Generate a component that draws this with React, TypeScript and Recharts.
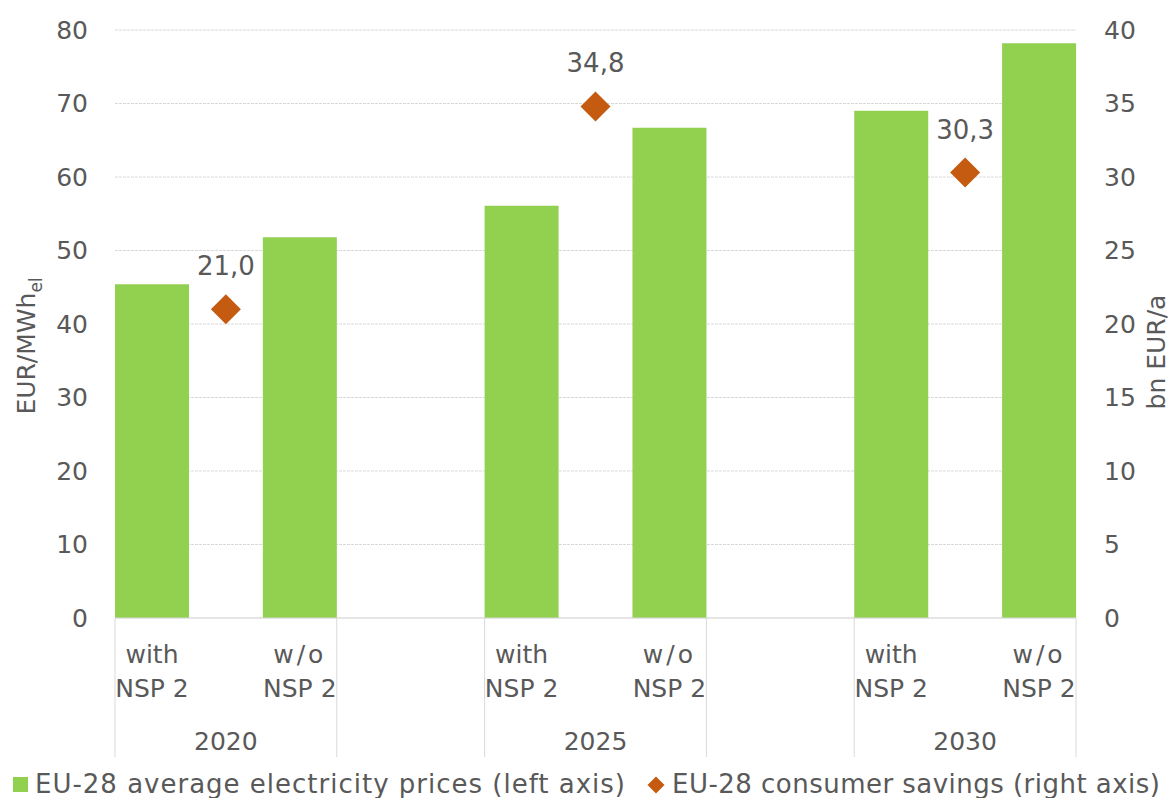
import React from 'react';
import {
  ComposedChart, Bar, Line, XAxis, YAxis, CartesianGrid, Legend, LabelList,
} from 'recharts';

const years = ['2020', '2025', '2030'];
const scenarioWith = ['with', 'NSP 2'];
const scenarioWithout = ['w/o', 'NSP 2'];
const pricesWith = [45.4, 56.1, 69.0];
const pricesWithout = [51.8, 66.7, 78.2];
const savings = [21.0, 34.8, 30.3];
const leftTicks = [0, 10, 20, 30, 40, 50, 60, 70, 80];
const rightTicks = [0, 5, 10, 15, 20, 25, 30, 35, 40];
const priceLegend = 'EU-28 average electricity prices (left axis)';
const savingsLegend = 'EU-28 consumer savings (right axis)';

const GREEN = '#92D050';
const ORANGE = '#C55A11';
const TEXT = '#595959';
const GRID = '#D9D9D9';
const FONT = '"DejaVu Sans", Verdana, sans-serif';

type Row = {
  key: string;
  price: number | null;
  saving: number | null;
  top: string[] | null;
  year: string;
  groupStart?: boolean;
  groupEnd?: boolean;
};

const rows: Row[] = [];
years.forEach((yr, g) => {
  rows.push({ key: `${yr}-with`, price: pricesWith[g], saving: null, top: scenarioWith, year: '', groupStart: true });
  rows.push({ key: `${yr}-mid`, price: null, saving: savings[g], top: null, year: yr });
  rows.push({ key: `${yr}-wo`, price: pricesWithout[g], saving: null, top: scenarioWithout, year: '', groupEnd: true });
  if (g < years.length - 1) {
    rows.push({ key: `${yr}-gap1`, price: null, saving: null, top: null, year: '' });
    rows.push({ key: `${yr}-gap2`, price: null, saving: null, top: null, year: '' });
  }
});

const fmt = (v: number) => v.toFixed(1).replace('.', ',');

const CategoryTick = (props: any) => {
  const { x, y, payload } = props;
  const i = payload.index;
  const row = rows[i];
  const half = payload.offset || 37;
  const parts: React.ReactNode[] = [];
  if (row.top) {
    parts.push(
      <text key="a" x={x} y={y + 45} textAnchor="middle" fill={TEXT} fontSize={25} fontFamily={FONT} letterSpacing={row.top[0] === 'w/o' ? 3 : 0}>{row.top[0]}</text>,
      <text key="b" x={x} y={y + 79} textAnchor="middle" fill={TEXT} fontSize={25} fontFamily={FONT}>{row.top[1]}</text>,
    );
  }
  if (row.year) {
    parts.push(
      <text key="c" x={x} y={y + 132} textAnchor="middle" fill={TEXT} fontSize={25} fontFamily={FONT}>{row.year}</text>,
    );
  }
  if (row.groupStart) {
    parts.push(<line key="d" x1={x - half} x2={x - half} y1={y} y2={y + 139} stroke={GRID} strokeWidth={1} />);
  }
  if (row.groupEnd) {
    parts.push(<line key="e" x1={x + half} x2={x + half} y1={y} y2={y + 139} stroke={GRID} strokeWidth={1} />);
  }
  return <g>{parts}</g>;
};

const Diamond = (props: any) => {
  const { cx, cy, value } = props;
  if (value == null || cx == null || cy == null) return <g />;
  const r = 15;
  return <path d={`M${cx},${cy - r}L${cx + r},${cy}L${cx},${cy + r}L${cx - r},${cy}Z`} fill={ORANGE} />;
};

const SavingLabel = (props: any) => {
  const { x, y, value } = props;
  if (value == null || x == null || y == null) return null;
  return (
    <text x={x} y={y - 34} textAnchor="middle" fill={TEXT} fontSize={26} fontFamily={FONT}>{fmt(Number(value))}</text>
  );
};

const LeftTitle = (props: any) => {
  const vb = props.viewBox || { x: 0, y: 30, width: 115, height: 588 };
  const cx = 35;
  const cy = vb.y + vb.height / 2 + 22;
  return (
    <text transform={`translate(${cx},${cy}) rotate(-90)`} textAnchor="middle" fill={TEXT} fontSize={25} fontFamily={FONT}>
      EUR/MWh<tspan fontSize={17} dy={7}>el</tspan>
    </text>
  );
};

const RightTitle = (props: any) => {
  const vb = props.viewBox || { x: 1076, y: 30, width: 96, height: 588 };
  const cx = vb.x + 89;
  const cy = vb.y + vb.height / 2 + 28;
  return (
    <text transform={`translate(${cx},${cy}) rotate(-90)`} textAnchor="middle" fill={TEXT} fontSize={25} fontFamily={FONT}>
      bn EUR/a
    </text>
  );
};

const LegendContent = () => (
  <svg width={1172} height={40} style={{ display: 'block' }}>
    <rect x={13} y={19} width={15} height={15} fill={GREEN} />
    <text x={35} y={35} fill={TEXT} fontSize={26} fontFamily={FONT} textLength={590} lengthAdjust="spacing">{priceLegend}</text>
    <path d="M656,18.5L664.5,27L656,35.5L647.5,27Z" fill={ORANGE} />
    <text x={672} y={35} fill={TEXT} fontSize={26} fontFamily={FONT} textLength={488} lengthAdjust="spacing">{savingsLegend}</text>
  </svg>
);

export default function App() {
  return (
    <div style={{ position: 'absolute', left: 0, top: 0, width: 1172, height: 798, background: '#fff' }}>
      <ComposedChart
        width={1172}
        height={798}
        data={rows}
        margin={{ top: 30, right: 0, bottom: 0, left: 0 }}
        barCategoryGap={0}
        barGap={0}
        style={{ fontFamily: FONT }}
      >
        <CartesianGrid yAxisId="left" vertical={false} stroke={GRID} strokeDasharray="3 1" />
        <XAxis
          dataKey="key"
          interval={0}
          height={140}
          tickLine={false}
          tickSize={0}
          tickMargin={0}
          axisLine={{ stroke: GRID }}
          tick={<CategoryTick />}
        />
        <YAxis
          yAxisId="left"
          orientation="left"
          width={115}
          domain={[0, 80]}
          ticks={leftTicks}
          axisLine={false}
          tickLine={false}
          tickSize={0}
          tickMargin={27}
          tick={{ fill: TEXT, fontSize: 25, fontFamily: FONT }}
          label={<LeftTitle />}
        />
        <YAxis
          yAxisId="right"
          orientation="right"
          width={96}
          domain={[0, 40]}
          ticks={rightTicks}
          axisLine={false}
          tickLine={false}
          tickSize={0}
          tickMargin={28}
          tick={{ fill: TEXT, fontSize: 25, fontFamily: FONT, textAnchor: 'start' }}
          label={<RightTitle />}
        />
        <Legend
          verticalAlign="bottom"
          align="left"
          height={40}
          wrapperStyle={{ left: 0, bottom: 0, width: 1172, height: 40 }}
          content={<LegendContent />}
        />
        <Bar yAxisId="left" dataKey="price" fill={GREEN} isAnimationActive={false} name={priceLegend} />
        <Line
          yAxisId="right"
          dataKey="saving"
          stroke="none"
          dot={<Diamond />}
          activeDot={false}
          isAnimationActive={false}
          connectNulls={false}
          name={savingsLegend}
        >
          <LabelList dataKey="saving" content={<SavingLabel />} />
        </Line>
      </ComposedChart>
    </div>
  );
}
